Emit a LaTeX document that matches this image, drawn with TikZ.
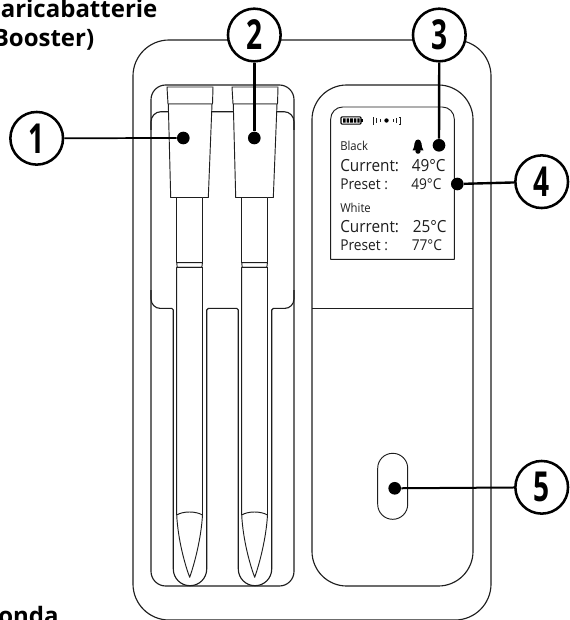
\documentclass[tikz,border=0pt]{standalone}
\usepackage{fontspec}
\setmainfont{Open Sans}
\newfontfamily\numfont[FakeStretch=0.68]{Open Sans}
\newfontfamily\scrfont[FakeStretch=0.92]{Open Sans}
\definecolor{ink}{HTML}{1E1E1E}
\tikzset{
  outl/.style={draw=ink,line width=.85pt,line join=round},
  thin outl/.style={draw=ink,line width=.7pt,line join=round},
  callout/.style={circle,draw=black,fill=white,line width=1.9pt,minimum size=39.5pt,inner sep=0pt,
     font=\numfont\bfseries\fontsize{31}{31}\selectfont},
  dotn/.style={circle,fill=black,minimum size=9.5pt,inner sep=0pt},
  lead/.style={draw=black,line width=1.8pt},
  head/.style={font=\bfseries\fontsize{18}{18}\selectfont,anchor=base west,inner sep=0pt},
  scr/.style={font=\scrfont\fontsize{#1}{#1}\selectfont,anchor=base west,inner sep=0pt,text=ink},
  probe/.pic={
    \path[thin outl,fill=white] (167,87) -- (213,87) -- (212.5,104) -- (168,104) -- cycle;
    \path[thin outl,fill=white] (168.3,104) -- (212,104) -- (208.3,197.5) -- (170.7,197.5) -- cycle;
    \path[thin outl,fill=white] (176.7,197.5) -- (202.7,197.5) -- (202.7,262.7) -- (176.7,262.7) -- cycle;
    \path[thin outl,fill=white] (176.7,262.7) -- (202.5,262.7) -- (201.8,267.3) -- (177.2,267.3) -- cycle;
    \path[thin outl,fill=white] (176.7,267.3) -- (202.5,267.3) -- (202.5,515) .. controls (201,540) and (194,565) .. (189.7,577.3) .. controls (185,565) and (178,540) .. (176.7,515) -- cycle;
    \path[thin outl] (176.7,515) .. controls (183,511) and (196,511) .. (202.5,515);
  }
}
\begin{document}
\begin{tikzpicture}[x=.75pt,y=-.75pt]
\useasboundingbox (0,0) rectangle (569,620);
\fill[white] (0,0) rectangle (569,620);
% outer body
\path[outl,rounded corners=27pt] (133,620) -- (133,40) -- (491,40) -- (491,620) -- cycle;
% probe tray
\path[outl,rounded corners=11pt] (151,586) -- (151,85) -- (294,85) -- (294,586) -- cycle;
\path[outl,rounded corners=7.5pt] (151,130) -- (151,111.7) -- (294,111.7) -- (294,130);
% slots
\path[outl,rounded corners=7pt] (151,290) -- (151,308.4)
   [rounded corners=1.2pt] -- (173.3,308.4)
   [rounded corners=12.5pt] -- (173.3,585.7) -- (206.7,585.7)
   [rounded corners=1.2pt] -- (206.7,308.4) -- (238.3,308.4)
   [rounded corners=12.5pt] -- (238.3,585.7) -- (271.7,585.7)
   [rounded corners=1.2pt] -- (271.7,308.4)
   [rounded corners=7pt] -- (294,308.4) -- (294,290);
% probes
\pic at (0,0) {probe};
\pic at (65,0) {probe};
% base unit panel
\path[outl,rounded corners=26pt] (312,586) -- (312,85) -- (473,85) -- (473,586) -- cycle;
\path[thin outl] (312,308.7) -- (473,308.7);
% screen
\path[thin outl,sharp corners] (330.7,259.3) [rounded corners=9pt] -- (330.7,107) -- (454.3,107) [sharp corners] -- (454.3,259.3) -- cycle;
% button
\path[thin outl,rounded corners=11.2pt] (377.7,453.3) rectangle (407.7,519.3);
% battery
\draw[draw=black,line width=.8pt,rounded corners=.8pt] (341,116.8) rectangle (361,124.2);
\fill[black] (361.2,118.8) rectangle (362.6,122.2);
\fill[black] (343,118.4) rectangle (345.6,122.6) (346.6,118.4) rectangle (349.2,122.6) (350.2,118.4) rectangle (352.8,122.6) (353.8,118.4) rectangle (356.4,122.6) (357.4,118.4) rectangle (359.6,122.6);
% signal icon
\draw[draw=ink,line width=.45pt] (374,117) -- (373,117) -- (373,124) -- (374,124) (376.5,118) -- (376.5,123) (380,119) -- (380,122) (393,119) -- (393,122) (396.5,118) -- (396.5,123) (399,117) -- (400,117) -- (400,124) -- (399,124);
\fill[black] (386.5,120.5) circle[radius=2.2];
% bell
\fill[black] (412.5,150.5) .. controls (414.5,148) and (414,146) .. (414.5,143.5) .. controls (415,140.5) and (416.5,139.5) .. (418,139.5) .. controls (419.5,139.5) and (421,140.5) .. (421.5,143.5) .. controls (422,146) and (421.5,148) .. (423.5,150.5) -- cycle;
\fill[black] (418,151.2) circle[radius=2.6];
% screen text
\node[scr=9.2] (t1) at (340,151) {Black};
\node[scr=12.5] (t2) at (340,171.7) {Current:};
\node[scr=12.5] (t3) at (411.5,171.7) {49°C};
\node[scr=11.2] (t4) at (340,190) {Preset :};
\node[scr=11.2] (t5) at (411,190) {49°C};
\node[scr=9.2] (t6) at (340,212.7) {White};
\node[scr=12.5] (t7) at (340,232.7) {Current:};
\node[scr=12.5] (t8) at (412.5,232.7) {25°C};
\node[scr=11.2] (t9) at (340,250.7) {Preset :};
\node[scr=11.2] (t10) at (411.5,250.7) {77°C};
% headings clipped by the page
\node[head] (h1) at (0.5,17.5) {aricabatterie};
\node[head] (h2) at (-7.5,47) {Booster)};
\node[head] (h3) at (-2,624) {onda};
% callouts
\node[dotn] (d1) at (183.3,138) {};
\node[dotn] (d2) at (254.3,138) {};
\node[dotn] (d3) at (439,145.3) {};
\node[dotn] (d4) at (457.3,184) {};
\node[dotn] (d5) at (394.7,488.3) {};
\node[callout] (c1) at (36.7,138.3) {1};
\node[callout] (c2) at (254.3,35) {2};
\node[callout] (c3) at (439.3,35) {3};
\node[callout] (c4) at (541.7,181.7) {4};
\node[callout] (c5) at (541.7,487.3) {5};
\draw[lead,line width=1.3pt] (c1) -- (d1);
\draw[lead] (c2) -- (d2);
\draw[lead] (c3) -- (d3);
\draw[lead] (c4) -- (d4);
\draw[lead,line width=1.5pt] (c5) -- (d5);
\end{tikzpicture}
\end{document}
